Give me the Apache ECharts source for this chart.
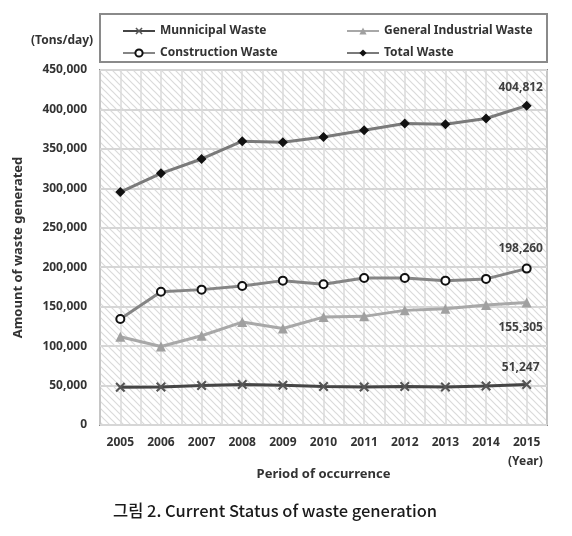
<!DOCTYPE html>
<html>
<head>
<meta charset="utf-8">
<script src="https://cdn.jsdelivr.net/npm/echarts@6/dist/echarts.min.js"></script>
<style>html,body{margin:0;padding:0;background:#fff;}#c{width:572px;height:536px;}</style>
</head>
<body>
<div id="c"></div>
<script>
const years = ['2005','2006','2007','2008','2009','2010','2011','2012','2013','2014','2015'];
const municipal = [47900, 48300, 50000, 51300, 50400, 48700, 48300, 48700, 48300, 49500, 51247];
const industrial = [111800, 99500, 113100, 130500, 122400, 136800, 137700, 145300, 147400, 152100, 155305];
const construction = [134300, 169000, 171600, 176200, 183000, 178400, 186400, 186400, 183000, 185200, 198260];
const total = [295300, 319000, 337200, 359700, 358400, 365200, 373700, 382200, 381300, 388500, 404812];
const seriesNames = ['Munnicipal Waste', 'General Industrial Waste', 'Construction Waste', 'Total Waste'];

const FONT = '"Noto Sans", "Open Sans", sans-serif';
const fmt = v => v.toLocaleString('en-US');

// hatch pattern
const pc = document.createElement('canvas');
pc.width = 7; pc.height = 7;
const g = pc.getContext('2d');
g.fillStyle = '#ffffff'; g.fillRect(0,0,7,7);
g.strokeStyle = '#dadada'; g.lineWidth = 1.2;
g.beginPath();
g.moveTo(-1,-1); g.lineTo(8,8);
g.moveTo(-8,-1); g.lineTo(1,8);
g.moveTo(6,-1); g.lineTo(15,8);
g.stroke();

const xMark = 'path://M0,1.5 L1.5,0 L5,3.5 L8.5,0 L10,1.5 L6.5,5 L10,8.5 L8.5,10 L5,6.5 L1.5,10 L0,8.5 L3.5,5 Z';

function lastLabel(arr, pos, dist) {
  return arr.map((v, i) => i === arr.length - 1 ? {
    value: v,
    label: { show: true, position: pos, distance: dist, offset: [-6, 0], formatter: p => fmt(p.value),
      fontFamily: FONT, fontWeight: 'bold', fontSize: 12, color: '#404040' }
  } : v);
}

const chart = echarts.init(document.getElementById('c'), null, { renderer: 'canvas' });
chart.setOption({
  animation: false,
  backgroundColor: '#ffffff',
  grid: { left: 100, right: 25, top: 70, bottom: 111, show: true,
    backgroundColor: { image: pc, repeat: 'repeat' }, borderColor: '#8a8a8a', borderWidth: 2 },
  legend: [
    { data: [seriesNames[0], seriesNames[2]], orient: 'vertical', left: 117, top: 20, itemGap: 10,
      itemWidth: 32, itemHeight: 9,
      textStyle: { fontFamily: FONT, fontWeight: 'bold', fontSize: 12, color: '#333' } },
    { data: [seriesNames[1], seriesNames[3]], orient: 'vertical', left: 341, top: 20, itemGap: 10,
      itemWidth: 32, itemHeight: 9,
      textStyle: { fontFamily: FONT, fontWeight: 'bold', fontSize: 12, color: '#333' } }
  ],
  graphic: [
    { type: 'rect', shape: { x: 100, y: 14, width: 447, height: 48 }, style: { fill: 'none', stroke: '#8a8a8a', lineWidth: 2 } },
    { type: 'text', left: 31, top: 35, style: { text: '(Tons/day)', font: 'bold 12px ' + FONT, fill: '#333' } },
    { type: 'text', left: 508, top: 456, style: { text: '(Year)', font: 'bold 12px ' + FONT, fill: '#333' } },
    { type: 'text', left: 113, top: 502, style: { text: '그림 2. Current Status of waste generation', font: '500 16.5px "Noto Sans CJK KR", sans-serif', fill: '#1a1a1a' } }
  ],
  xAxis: [
    { type: 'category', data: years, boundaryGap: true,
      axisLine: { show: false }, axisTick: { show: false }, splitLine: { show: false },
      axisLabel: { margin: 12, fontFamily: FONT, fontWeight: 'bold', fontSize: 12, color: '#333' },
      name: 'Period of occurrence', nameLocation: 'middle', nameGap: 43,
      nameTextStyle: { fontFamily: FONT, fontWeight: 'bold', fontSize: 13, color: '#333' } },
    { type: 'value', min: -0.5, max: 10.5, interval: 0.5, position: 'top',
      axisLine: { show: false }, axisTick: { show: false }, axisLabel: { show: false },
      splitLine: { show: true, lineStyle: { color: '#dadada', width: 1.5 } } }
  ],
  yAxis: {
    type: 'value', min: 0, max: 450000, interval: 50000,
    axisLine: { show: false }, axisTick: { show: false },
    axisLabel: { margin: 13, formatter: v => fmt(v), fontFamily: FONT, fontWeight: 'bold', fontSize: 12, color: '#333' },
    splitLine: { lineStyle: { color: '#d6d6d6', width: 2 } },
    name: 'Amount of waste generated', nameLocation: 'middle', nameGap: 75,
    nameTextStyle: { fontFamily: FONT, fontWeight: 'bold', fontSize: 13, color: '#333' }
  },
  series: [
    { name: seriesNames[0], type: 'line', xAxisIndex: 0, data: lastLabel(municipal, 'top', 6),
      symbol: xMark, symbolSize: 10, lineStyle: { color: '#454545', width: 3 }, itemStyle: { color: '#555555' } },
    { name: seriesNames[1], type: 'line', xAxisIndex: 0, data: lastLabel(industrial, 'bottom', 14),
      symbol: 'triangle', symbolSize: 10, lineStyle: { color: '#a8a8a8', width: 3 }, itemStyle: { color: '#a0a0a0' } },
    { name: seriesNames[2], type: 'line', xAxisIndex: 0, data: lastLabel(construction, 'top', 9),
      symbol: 'circle', symbolSize: 8, lineStyle: { color: '#858585', width: 3 },
      itemStyle: { color: '#ffffff', borderColor: '#111111', borderWidth: 2 } },
    { name: seriesNames[3], type: 'line', xAxisIndex: 0, data: lastLabel(total, 'top', 7),
      symbol: 'diamond', symbolSize: 10, lineStyle: { color: '#7a7a7a', width: 3 }, itemStyle: { color: '#111111' } }
  ]
});
</script>
</body>
</html>
